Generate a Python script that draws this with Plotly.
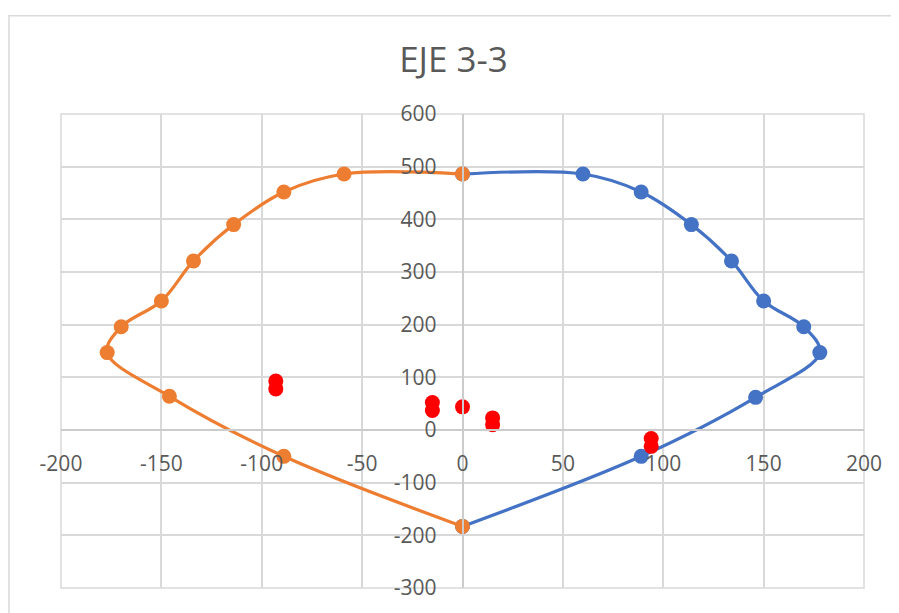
import plotly.graph_objects as go

# datos (x, y)
x_der = [0, 89, 146, 178, 170, 150, 134, 114, 89, 60, 0]
y_der = [-183, -50, 62, 147, 196, 245, 321, 390, 452, 486, 486]

x_izq = [0, -89, -146, -177, -170, -150, -134, -114, -89, -59, 0]
y_izq = [-183, -50, 64, 147, 196, 245, 321, 390, 452, 486, 486]

x_pts = [-93, -93, -15, -15, 0, 15, 15, 94, 94]
y_pts = [93, 78, 52, 37, 44, 23, 10, -16, -31]

x_ticks = [-200, -150, -100, -50, 0, 50, 100, 150, 200]
y_ticks = [-300, -200, -100, 0, 100, 200, 300, 400, 500, 600]

AZUL = '#4472C4'
NARANJA = '#ED7D31'
GRIS = '#595959'
GRILLA = '#d9d9d9'

fig = go.Figure()

fig.add_trace(go.Scatter(x=x_der, y=y_der, mode='lines+markers',
                         line=dict(color=AZUL, width=3.2, shape='spline', smoothing=1),
                         marker=dict(color=AZUL, size=15), showlegend=False))
fig.add_trace(go.Scatter(x=x_izq, y=y_izq, mode='lines+markers',
                         line=dict(color=NARANJA, width=3.2, shape='spline', smoothing=1),
                         marker=dict(color=NARANJA, size=15), showlegend=False))
fig.add_trace(go.Scatter(x=x_pts, y=y_pts, mode='markers',
                         marker=dict(color='#FF0000', size=15), showlegend=False))

# la pagina deja 8 px de margen, se descuentan aqui
fig.update_layout(
    width=891, height=605, autosize=False,
    margin=dict(l=53, r=35, t=106, b=22),
    paper_bgcolor='white', plot_bgcolor='white',
    font=dict(family='Open Sans', color=GRIS, size=21),
    title=dict(text='EJE 3-3', x=0.5, xanchor='center', y=0.914, yanchor='middle',
               font=dict(size=35, color=GRIS)),
    shapes=[
        dict(type='rect', xref='paper', yref='paper', x0=0, x1=1, y0=0, y1=1,
             line=dict(color=GRILLA, width=1.5), layer='below'),
        dict(type='rect', xref='paper', yref='paper', x0=-0.0648, x1=1.06, y0=-0.1, y1=1.2075,
             line=dict(color=GRILLA, width=1.5)),
    ],
)

fig.update_xaxes(range=[-200, 200], tickvals=x_ticks, ticktext=[str(v) for v in x_ticks],
                 showgrid=True, gridcolor=GRILLA, gridwidth=1.5,
                 zeroline=False, showline=True, linecolor='#cccccc', linewidth=1.5,
                 anchor='free', position=1/3, ticks='outside', ticklen=15,
                 tickcolor='rgba(0,0,0,0)', fixedrange=True)
fig.update_yaxes(range=[-300, 600], tickvals=y_ticks, ticktext=[str(v) for v in y_ticks],
                 showgrid=True, gridcolor=GRILLA, gridwidth=1.5,
                 zeroline=False, showline=True, linecolor='#cccccc', linewidth=1.5,
                 anchor='free', position=0.5, ticks='outside', ticklen=21,
                 tickcolor='rgba(0,0,0,0)', fixedrange=True)

fig.write_html("out.html")
